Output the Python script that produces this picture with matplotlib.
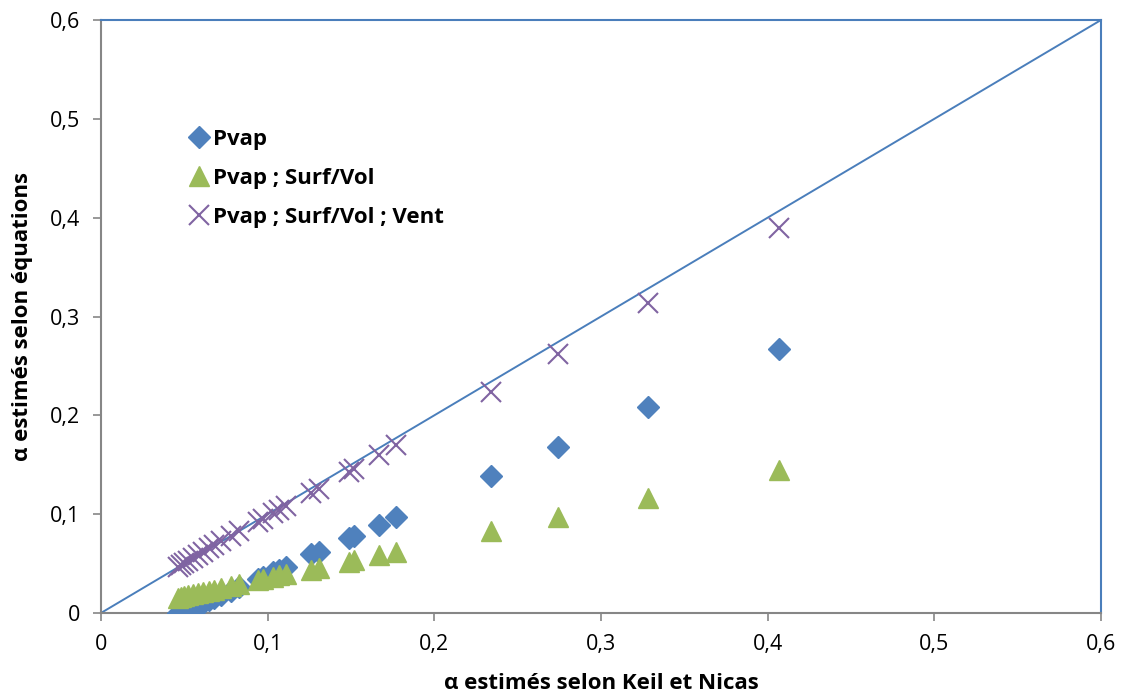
import matplotlib
matplotlib.use("Agg")
import matplotlib.pyplot as plt

plt.rcParams['font.family'] = ['Open Sans', 'DejaVu Sans']

# alpha estimated with Keil & Nicas (shared x for all series)
keil_nicas = [0.046, 0.048, 0.050, 0.052, 0.055, 0.058, 0.061, 0.065, 0.068, 0.072,
              0.078, 0.083, 0.094, 0.097, 0.103, 0.107, 0.111, 0.126, 0.131, 0.149,
              0.152, 0.167, 0.177, 0.234, 0.274, 0.328, 0.407]
pvap = [0.000, 0.002, 0.003, 0.004, 0.006, 0.008, 0.010, 0.013, 0.015, 0.018,
        0.022, 0.026, 0.034, 0.036, 0.041, 0.044, 0.047, 0.060, 0.062, 0.076,
        0.078, 0.089, 0.097, 0.139, 0.168, 0.208, 0.267]
pvap_surf = [0.015, 0.016, 0.017, 0.018, 0.019, 0.020, 0.021, 0.022, 0.023, 0.025,
             0.027, 0.029, 0.033, 0.034, 0.036, 0.038, 0.039, 0.044, 0.046, 0.052,
             0.054, 0.059, 0.062, 0.083, 0.097, 0.116, 0.145]
pvap_surf_vent = [0.047, 0.049, 0.051, 0.053, 0.056, 0.059, 0.062, 0.066, 0.069, 0.073,
                  0.078, 0.083, 0.092, 0.095, 0.101, 0.104, 0.108, 0.121, 0.125, 0.143,
                  0.146, 0.160, 0.170, 0.224, 0.262, 0.314, 0.390]
diag = [0, 0.6]

ticks = [0, 0.1, 0.2, 0.3, 0.4, 0.5, 0.6]
tick_labels = ['0', '0,1', '0,2', '0,3', '0,4', '0,5', '0,6']

fig = plt.figure(figsize=(11.23, 7), dpi=100)
ax = fig.add_axes([0.0899, 0.1243, 0.8905, 0.8471])

ax.plot(diag, diag, color='#4A7EBB', lw=1.4, zorder=1)
ax.plot(keil_nicas, pvap, 'D', color='#4F81BD', ms=11, label='Pvap', zorder=3)
ax.plot(keil_nicas, pvap_surf, '^', color='#9BBB59', ms=14, label='Pvap ; Surf/Vol', zorder=3)
ax.plot(keil_nicas, pvap_surf_vent, 'x', color='#8064A2', ms=14, mew=1.5,
        label='Pvap ; Surf/Vol ; Vent', zorder=4)

ax.set_xlim(0, 0.6)
ax.set_ylim(0, 0.6)
ax.set_xticks(ticks)
ax.set_xticklabels(tick_labels)
ax.set_yticks(ticks)
ax.set_yticklabels(tick_labels)
ax.tick_params(labelsize=15.5, length=6, width=1.2, color='#868686', pad=9)

for s in ['left', 'bottom']:
    ax.spines[s].set_color('#868686')
    ax.spines[s].set_linewidth(1.5)
for s in ['top', 'right']:
    ax.spines[s].set_color('#4A7EBB')
    ax.spines[s].set_linewidth(1.5)

ax.set_xlabel('α estimés selon Keil et Nicas', fontsize=16, fontweight='bold', labelpad=13)
ax.set_ylabel('α estimés selon équations', fontsize=16, fontweight='bold', labelpad=12)

leg = ax.legend(loc='upper left', bbox_to_anchor=(0.068, 0.85), frameon=False,
                prop={'weight': 'bold', 'size': 16},
                handlelength=0.9, handletextpad=0.2, labelspacing=0.8)

fig.savefig('out.png', dpi=100)
